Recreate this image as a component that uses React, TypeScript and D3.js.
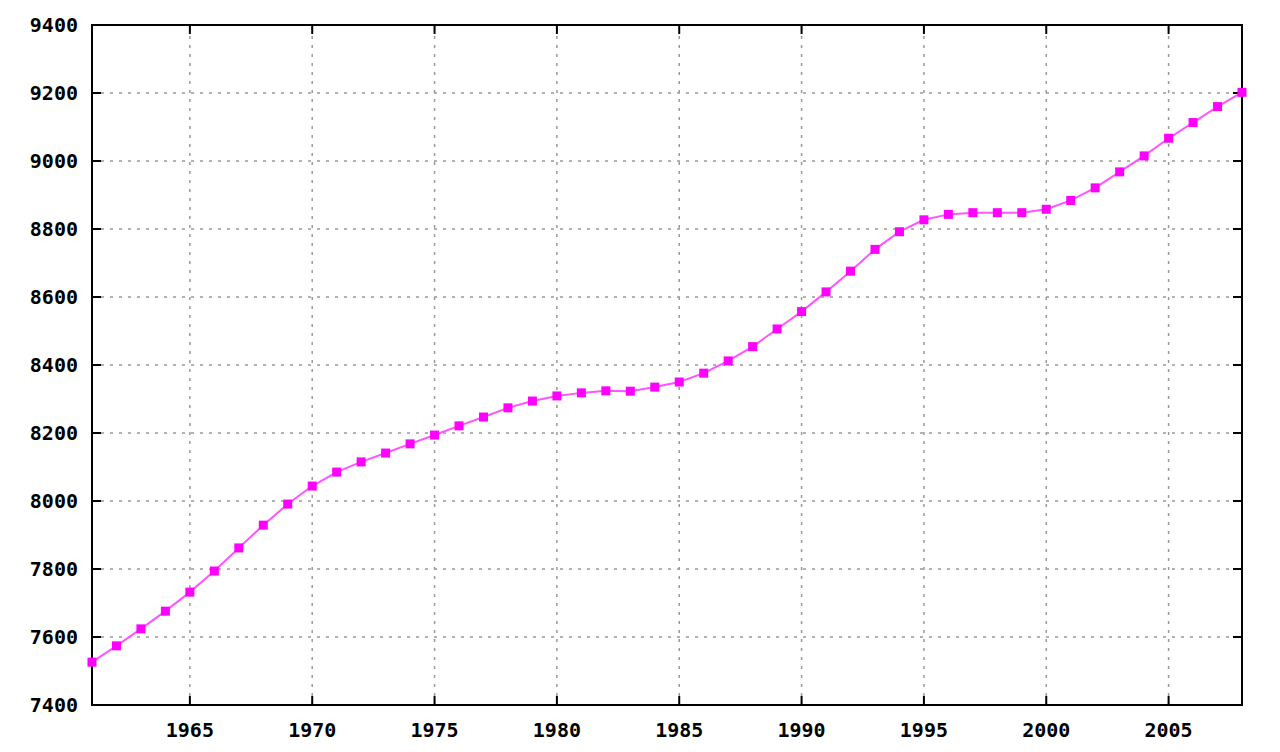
import { useEffect, useRef } from 'react';
import * as d3 from 'd3';

// population (thousands)
const years = [
  1961, 1962, 1963, 1964, 1965, 1966, 1967, 1968, 1969, 1970, 1971, 1972, 1973, 1974, 1975, 1976,
  1977, 1978, 1979, 1980, 1981, 1982, 1983, 1984, 1985, 1986, 1987, 1988, 1989, 1990, 1991, 1992,
  1993, 1994, 1995, 1996, 1997, 1998, 1999, 2000, 2001, 2002, 2003, 2004, 2005, 2006, 2007, 2008,
];
const population = [
  7526, 7574, 7624, 7676, 7732, 7794, 7862, 7929, 7991, 8044, 8085, 8115, 8141, 8168, 8194, 8221,
  8247, 8274, 8294, 8309, 8318, 8324, 8323, 8335, 8350, 8376, 8412, 8454, 8506, 8557, 8615, 8676,
  8740, 8792, 8827, 8843, 8848, 8848, 8848, 8858, 8884, 8921, 8968, 9015, 9067, 9113, 9160, 9202,
];
const xTicks = [1965, 1970, 1975, 1980, 1985, 1990, 1995, 2000, 2005];
const yTicks = [7400, 7600, 7800, 8000, 8200, 8400, 8600, 8800, 9000, 9200, 9400];

const width = 1280;
const height = 752;
const margin = { top: 25, right: 38, bottom: 47, left: 92 };

const App = () => {
  const svgRef = useRef<SVGSVGElement>(null);

  useEffect(() => {
    document.body.style.margin = '0';
    if (!svgRef.current) return;
    const svg = d3.select(svgRef.current);
    svg.selectAll('*').remove();

    const x = d3.scaleLinear().domain([1961, 2008]).range([margin.left, width - margin.right]);
    const y = d3.scaleLinear().domain([7400, 9400]).range([height - margin.bottom, margin.top]);
    const x0 = x.range()[0], x1 = x.range()[1];
    const y0 = y.range()[0], y1 = y.range()[1];
    const font = "'DejaVu Sans Mono', monospace";

    svg.append('rect').attr('width', width).attr('height', height).attr('fill', '#fff');

    // grid
    const grid = svg.append('g').attr('stroke', '#999').attr('stroke-width', 1.5).attr('stroke-dasharray', '3,6');
    grid
      .selectAll('line.v')
      .data(xTicks)
      .join('line')
      .attr('x1', (d) => x(d))
      .attr('x2', (d) => x(d))
      .attr('y1', y0)
      .attr('y2', y1);
    grid
      .selectAll('line.h')
      .data(yTicks.slice(1, -1))
      .join('line')
      .attr('class', 'h')
      .attr('x1', x0)
      .attr('x2', x1)
      .attr('y1', (d) => y(d))
      .attr('y2', (d) => y(d));

    // ticks (mirrored, inward)
    const ticks = svg.append('g').attr('stroke', '#000').attr('stroke-width', 2);
    xTicks.forEach((t) => {
      ticks.append('line').attr('x1', x(t)).attr('x2', x(t)).attr('y1', y0).attr('y2', y0 - 9);
      ticks.append('line').attr('x1', x(t)).attr('x2', x(t)).attr('y1', y1).attr('y2', y1 + 9);
    });
    yTicks.forEach((t) => {
      ticks.append('line').attr('x1', x0).attr('x2', x0 + 9).attr('y1', y(t)).attr('y2', y(t));
      ticks.append('line').attr('x1', x1).attr('x2', x1 - 9).attr('y1', y(t)).attr('y2', y(t));
    });

    // border
    svg
      .append('rect')
      .attr('x', x0)
      .attr('y', y1)
      .attr('width', x1 - x0)
      .attr('height', y0 - y1)
      .attr('fill', 'none')
      .attr('stroke', '#000')
      .attr('stroke-width', 2);

    // labels
    svg
      .append('g')
      .selectAll('text')
      .data(yTicks)
      .join('text')
      .attr('x', 78)
      .attr('y', (d) => y(d) + 7)
      .attr('text-anchor', 'end')
      .attr('font-family', font)
      .attr('font-weight', 'bold')
      .attr('font-size', 20)
      .text((d) => d);
    svg
      .append('g')
      .selectAll('text')
      .data(xTicks)
      .join('text')
      .attr('x', (d) => x(d))
      .attr('y', 737)
      .attr('text-anchor', 'middle')
      .attr('font-family', font)
      .attr('font-weight', 'bold')
      .attr('font-size', 20)
      .text((d) => d);

    // series
    const pts = years.map((yr, i) => [yr, population[i]] as [number, number]);
    const line = d3
      .line<[number, number]>()
      .x((d) => x(d[0]))
      .y((d) => y(d[1]));
    svg
      .append('path')
      .datum(pts)
      .attr('d', line)
      .attr('fill', 'none')
      .attr('stroke', '#ff55ff')
      .attr('stroke-width', 2);
    svg
      .append('g')
      .selectAll('rect')
      .data(pts)
      .join('rect')
      .attr('x', (d) => x(d[0]) - 4.5)
      .attr('y', (d) => y(d[1]) - 4.5)
      .attr('width', 9)
      .attr('height', 9)
      .attr('fill', '#ff00ff');
  }, []);

  return <svg ref={svgRef} width={width} height={height} style={{ display: 'block' }} />;
};

export default App;
